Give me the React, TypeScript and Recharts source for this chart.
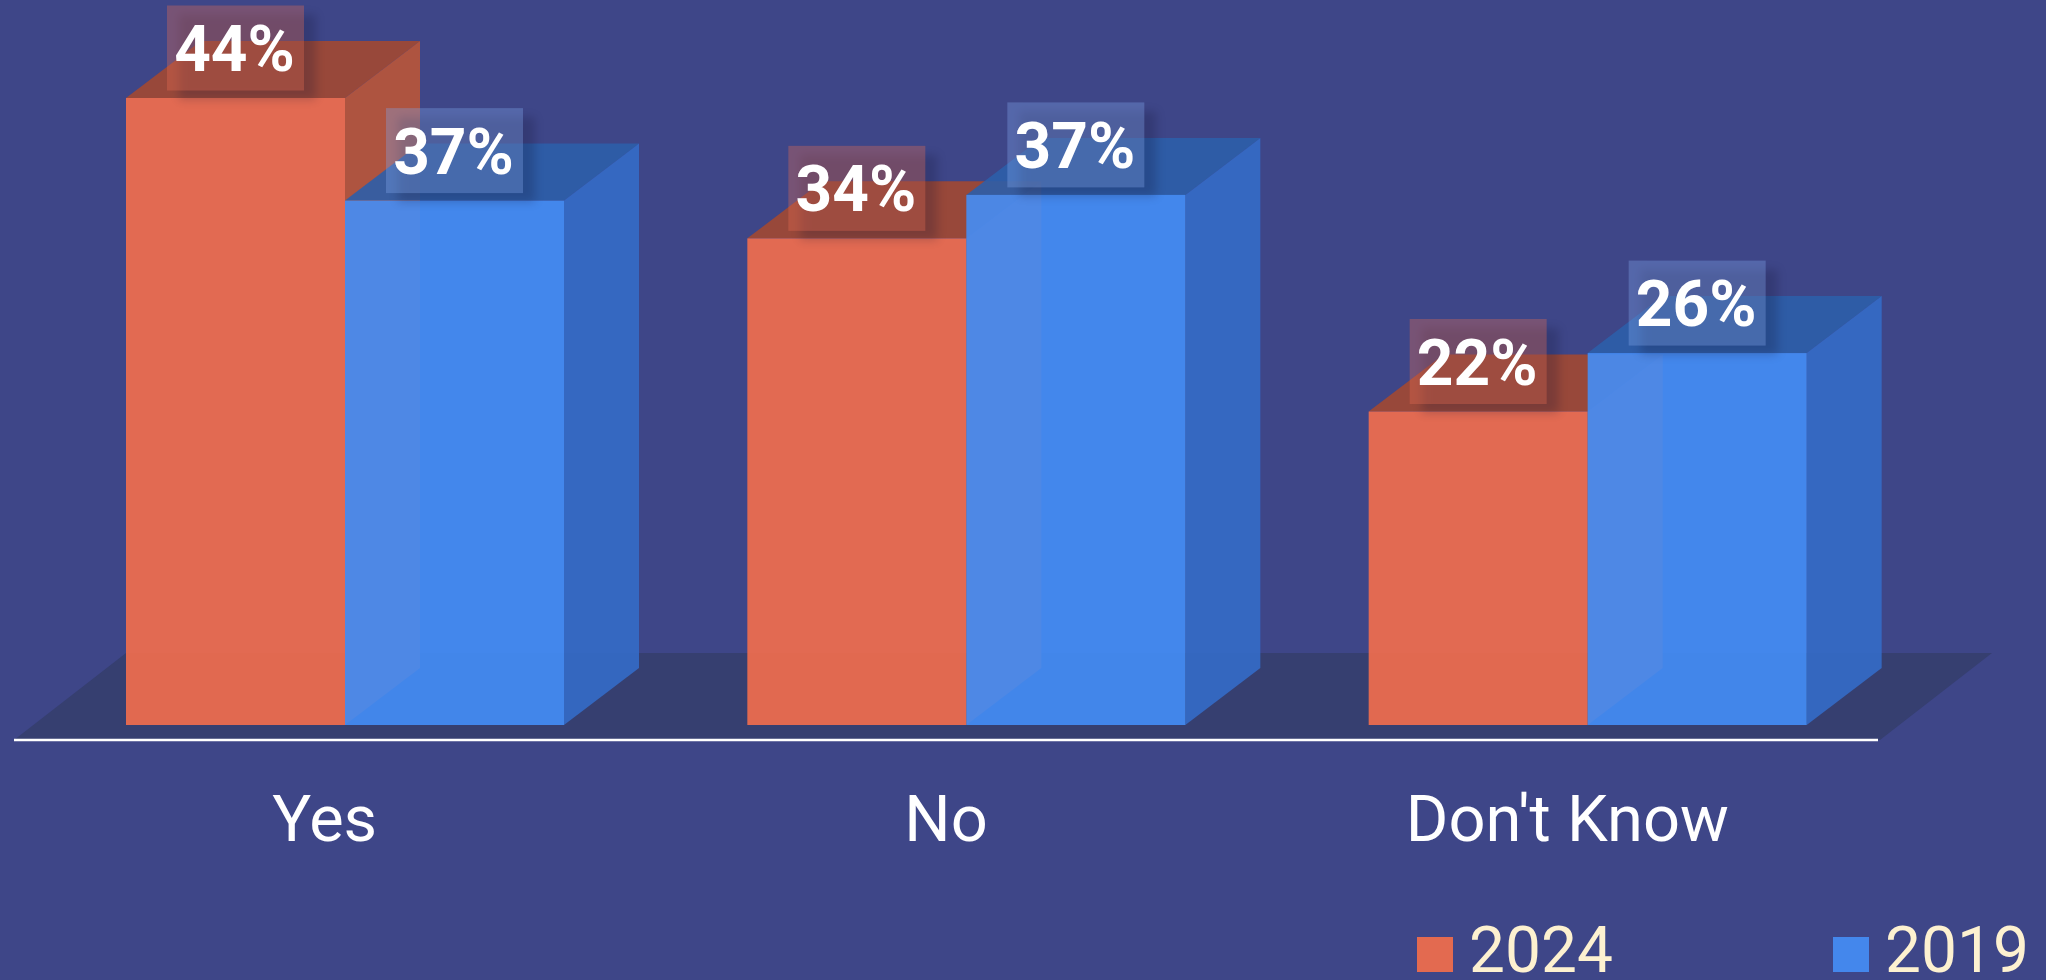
import React from 'react';
import { BarChart, Bar, XAxis, YAxis, Legend, LabelList, usePlotArea } from 'recharts';

const categories = ['Yes', 'No', "Don't Know"];
const values2024 = [44, 34.15, 22];
const values2019 = [36.8, 37.2, 26.1];
const rows = categories.map((name, i) => ({ name, y2024: values2024[i], y2019: values2019[i] }));

const FONT = 'Roboto, sans-serif';
const SHIFT_X = 20;
const SHIFT_Y = -15;
const DX = 75;
const DY = -57;

const pal = {
  bg: '#3e4688',
  floor: '#363f70',
  o: { front: 'rgba(244,110,76,0.9)', side: 'rgba(186,85,56,0.9)', top: 'rgba(162,72,50,0.9)', solid: '#e36a50', badge: 'rgba(229,109,84,0.35)' },
  b: { front: 'rgba(68,142,247,0.9)', side: 'rgba(52,108,200,0.9)', top: 'rgba(44,94,170,0.9)', solid: '#4487ec', badge: 'rgba(128,165,235,0.35)' },
};

const box3d = (c: { front: string; side: string; top: string }) => (p: any) => {
  const x = p.x + SHIFT_X;
  const y = p.y + SHIFT_Y;
  const w = p.width;
  const h = p.height;
  return (
    <g>
      <polygon points={`${x},${y} ${x + DX},${y + DY} ${x + w + DX},${y + DY} ${x + w},${y}`} fill={c.top} />
      <polygon points={`${x + w},${y} ${x + w + DX},${y + DY} ${x + w + DX},${y + h + DY} ${x + w},${y + h}`} fill={c.side} />
      <rect x={x} y={y} width={w} height={h} fill={c.front} />
    </g>
  );
};

const valueBadge = (fill: string) => (p: any) => {
  const cx = p.x + SHIFT_X + p.width / 2;
  const top = p.y + SHIFT_Y;
  const bw = 137;
  const bh = 85;
  const bx = cx - bw / 2;
  const by = top - 7.5 - bh;
  return (
    <g>
      <rect x={bx + 12} y={by + 9} width={bw} height={bh} fill="#101030" opacity={0.22} style={{ filter: 'blur(5px)' }} />
      <rect x={bx} y={by} width={bw} height={bh} fill={fill} />
      <text x={cx - 1} y={by + 65.5} textAnchor="middle" fill="#ffffff" fontFamily={FONT} fontWeight={700} fontSize={64}>
        {`${Math.round(p.value)}%`}
      </text>
    </g>
  );
};

const Floor = () => {
  const a = usePlotArea();
  if (!a) return null;
  const b = a.y + a.height;
  const l = a.x;
  const r = a.x + a.width;
  return <polygon points={`${l},${b} ${l + 112},${b - 87} ${r + 114},${b - 87} ${r + 2},${b}`} fill={pal.floor} />;
};

const LegendBlock = ({ payload }: any) => {
  const items = [...(payload || [])].sort((a: any, b: any) => Number(b.value) - Number(a.value));
  return (
    <div style={{ position: 'relative', width: 2046, height: 980, fontFamily: FONT, fontSize: 64, color: '#fdf1d0' }}>
      {items.map((it: any, i: number) => {
        const left = [1417, 1833][i];
        return (
          <div key={it.value}>
            <div style={{ position: 'absolute', left, top: 937, width: 36, height: 35, background: it.payload.legendColor }} />
            <div style={{ position: 'absolute', left: left + 52, top: 926, lineHeight: '50px', fontWeight: 400 }}>{it.value}</div>
          </div>
        );
      })}
    </div>
  );
};

export default function App() {
  return (
    <div style={{ position: 'absolute', left: 0, top: 0, width: 2046, height: 980, background: pal.bg, overflow: 'hidden' }}>
      <BarChart
        width={2046}
        height={980}
        data={rows}
        margin={{ top: 27.5, right: 168, bottom: 0, left: 14 }}
        barSize={219}
        barGap={0}
      >
        <Floor />
        <XAxis
          dataKey="name"
          height={240}
          axisLine={{ stroke: '#ffffff', strokeWidth: 2.5 }}
          tickLine={false}
          tickMargin={49}
          tick={{ fill: '#ffffff', fontSize: 65, fontFamily: FONT, fontWeight: 400 }}
        />
        <YAxis hide domain={[0, 50]} />
        <Bar dataKey="y2024" name="2024" isAnimationActive={false} shape={box3d(pal.o)} {...({ legendColor: pal.o.solid } as any)}>
          <LabelList dataKey="y2024" content={valueBadge(pal.o.badge)} />
        </Bar>
        <Bar dataKey="y2019" name="2019" isAnimationActive={false} shape={box3d(pal.b)} {...({ legendColor: pal.b.solid } as any)}>
          <LabelList dataKey="y2019" content={valueBadge(pal.b.badge)} />
        </Bar>
        <Legend
          layout="horizontal"
          verticalAlign="middle"
          width={2046}
          wrapperStyle={{ left: 0, top: 0, width: 2046, height: 980, pointerEvents: 'none' }}
          content={LegendBlock as any}
        />
      </BarChart>
    </div>
  );
}
